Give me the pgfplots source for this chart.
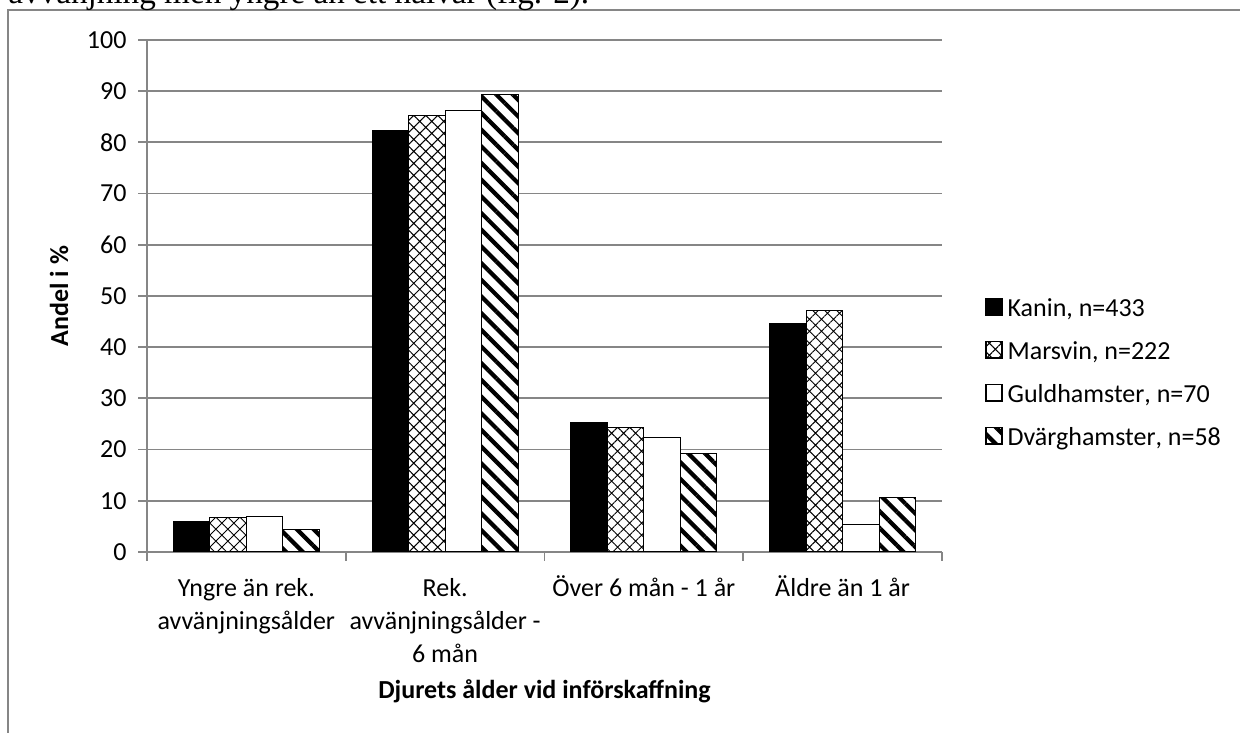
\documentclass[border=0pt]{standalone}
\usepackage{fontspec}
\setmainfont{Carlito}
\newfontfamily\docfont{Liberation Serif}
\usepackage{pgfplots}
\pgfplotsset{compat=1.18}
\usetikzlibrary{patterns.meta}

\definecolor{gridgray}{RGB}{134,134,134}
\newcommand\cf{\fontsize{13bp}{16.5bp}\selectfont}

% values (per cent)
\pgfplotstableread{
x kanin marsvin guld dvarg
0 5.9  6.7  6.9  4.4
1 82.3 85.3 86.3 89.4
2 25.2 24.3 22.4 19.3
3 44.6 47.1 5.3  10.6
}\agedata

\begin{document}
\begin{tikzpicture}
\useasboundingbox (0,0) rectangle (620bp,366.5bp);
\clip (0,0) rectangle (620bp,366.5bp);
% chart frame, cut off at the right and the bottom
\draw[gridgray, line width=1bp] (4bp,-20bp) rectangle (640bp,361.5bp);
% document text above the chart, cut off at the top
\node[anchor=base west, inner sep=0pt, font=\docfont\fontsize{16.6bp}{20bp}\selectfont]
  at (4bp,364.5bp) {avvänjning men yngre än ett halvår (fig. 2).};

\begin{axis}[
    at={(73.5bp,90.5bp)}, anchor=south west,
    scale only axis, width=397.5bp, height=256bp,
    ybar=0pt, bar width=18.25bp,
    xmin=-0.5, xmax=3.5, ymin=0, ymax=100,
    ytick={0,10,...,100},
    xtick={-0.5,0.5,...,3.5}, xticklabels={},
    extra x ticks={0,1,2,3},
    extra x tick labels={\strut Yngre än rek.\\avvänjningsålder,
        \strut Rek.\\avvänjningsålder -\\6 mån,
        \strut Över 6 mån - 1 år,
        \strut Äldre än 1 år},
    extra x tick style={major tick length=0pt, grid=none},
    axis x line*=bottom, axis y line*=left,
    axis line style={draw=gridgray, line width=0.9bp},
    tick style={draw=gridgray, line width=0.9bp},
    tick align=outside, major tick length=4.3bp,
    ymajorgrids,
    grid style={draw=gridgray, line width=0.9bp},
    /pgf/number format/assume math mode=true,
    tick label style={font=\cf, black},
    yticklabel style={anchor=east, inner sep=0pt, xshift=-5.75bp},
    xticklabel style={anchor=north, align=center, inner sep=0pt, yshift=-10.6bp},
    xlabel={Djurets ålder vid införskaffning},
    ylabel={Andel i \%},
    label style={font=\cf\bfseries},
    xlabel style={at={(axis description cs:0.5,-0.2871)}, anchor=base, inner sep=0pt},
    ylabel style={at={(axis description cs:-0.1107,0.5)}, anchor=center, inner sep=0pt},
    legend image code/.code={\draw[#1] (0bp,-2bp) rectangle (8bp,6.2bp);},
    legend cell align=left,
    legend style={at={(axis description cs:1.0541,0.3457)}, anchor=west,
        draw=none, fill=none, inner sep=0pt, font=\cf, row sep=9bp,
        nodes={inner sep=0pt, text height=9bp, text depth=3bp},
        /tikz/every odd column/.append style={column sep=2.5bp}},
    every axis plot/.append style={draw=black, line width=0.6bp},
]
\addplot[fill=black] table[x=x, y=kanin] {\agedata};
\addplot[fill=white, postaction={pattern={Hatch[angle=45, distance=4.24bp, line width=0.5bp]}, pattern color=black}]
    table[x=x, y=marsvin] {\agedata};
\addplot[fill=white] table[x=x, y=guld] {\agedata};
\addplot[fill=white, postaction={pattern={Lines[angle=-45, distance=5.9bp, line width=2.1bp]}, pattern color=black}]
    table[x=x, y=dvarg] {\agedata};
\legend{Kanin\rlap{, n=433}\phantom{, n=433},
    Marsvin\rlap{, n=222}\phantom{, n=222},
    Guldhamster\rlap{, n=70}\phantom{, n=70},
    Dvärghamster\rlap{, n=58}\phantom{, n=58}}
\end{axis}
\end{tikzpicture}
\end{document}
